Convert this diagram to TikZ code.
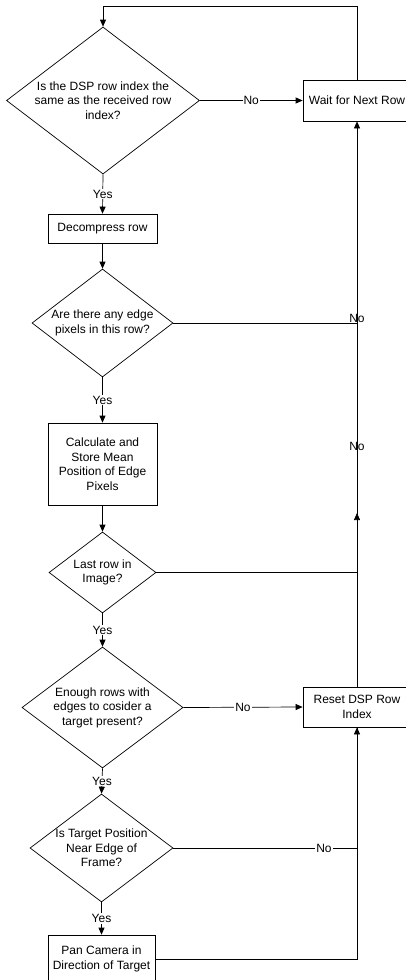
\documentclass[tikz,border=0pt]{standalone}
\usepackage{fontspec}
\setmainfont{Liberation Sans}
\usetikzlibrary{arrows.meta,shapes.geometric}

\begin{document}
\begin{tikzpicture}[
    x=1pt, y=-1pt,
    font=\fontsize{12}{14.5}\selectfont,
    >={Triangle[length=7pt,width=6pt]},
    line width=0.7pt,
    procbox/.style={draw, inner sep=1pt, align=center},
    decision/.style={draw, diamond, inner sep=0pt},
    qtext/.style={align=center, inner sep=0pt},
    yesno/.style={fill=white, inner sep=1pt}
]
\useasboundingbox (0,0) rectangle (405,980);

\node[decision, minimum width=193pt, minimum height=147pt,
      label={[qtext]center:Is the DSP row index the\\same as the received row\\index?}] (d1) at (103,100.5) {};
\node[procbox, minimum width=108pt, minimum height=41pt] (wait) at (357,100.5) {Wait for Next Row};
\node[procbox, minimum width=109pt, minimum height=29pt] (decomp) at (102.5,228.5) {Decompress row};
\node[decision, minimum width=141pt, minimum height=108pt,
      label={[qtext]center:Are there any edge\\pixels in this row?}] (d2) at (102.5,323) {};
\node[procbox, minimum width=109pt, minimum height=82pt] (calc) at (102.5,464) {Calculate and\\Store Mean\\Position of Edge\\Pixels};
\node[decision, minimum width=107pt, minimum height=81pt,
      label={[qtext]center:Last row in\\Image?}] (d3) at (102.5,572.5) {};
\node[decision, minimum width=161pt, minimum height=121pt,
      label={[qtext]center:Enough rows with\\edges to cosider a\\target present?}] (d4) at (102.5,707.5) {};
\node[procbox, minimum width=108pt, minimum height=40pt] (reset) at (357,707) {Reset DSP Row\\Index};
\node[decision, minimum width=143pt, minimum height=108pt,
      label={[qtext]center:Is Target Position\\Near Edge of\\Frame?}] (d5) at (101.5,848) {};
\node[procbox, minimum width=107pt, minimum height=48pt] (pan) at (101.5,959) {Pan Camera in\\Direction of Target};
\coordinate (rj) at (357,513);

% loop back to the top
\draw[->] (d1.east) -- node[yesno] {No} (wait.west);
\draw[->] (wait.north) -- ++(0,-73) -| (d1.north);
\draw[->] (d1.south) -- node[yesno] {Yes} (decomp.north);
\draw[->] (decomp.south) -- (d2.north);
\draw (d2.east) -- (d2 -| wait) node[yshift=5pt] {No};
\draw[->] (d2.south) -- node[yesno] {Yes} (calc.north);
\draw[->] (calc.south) -- (d3.north);
\draw[->] (d3.east) -| node[pos=0.64] {No} (wait.south);
\draw[->] (d3.south) -- node[yesno] {Yes} (d4.north);
\draw[->] (d4.east) -- node[yesno] {No} (reset.west);
\draw[->] (reset.north) -- (rj);
\draw[->] (d4.south) -- node[yesno] {Yes} (d5.north);
\draw[->] (d5.east) -| node[yesno, pos=0.41] {No} (reset.south);
\draw[->] (d5.south) -- node[yesno] {Yes} (pan.north);
\draw (pan.east) -| (reset.south);
\end{tikzpicture}
\end{document}
